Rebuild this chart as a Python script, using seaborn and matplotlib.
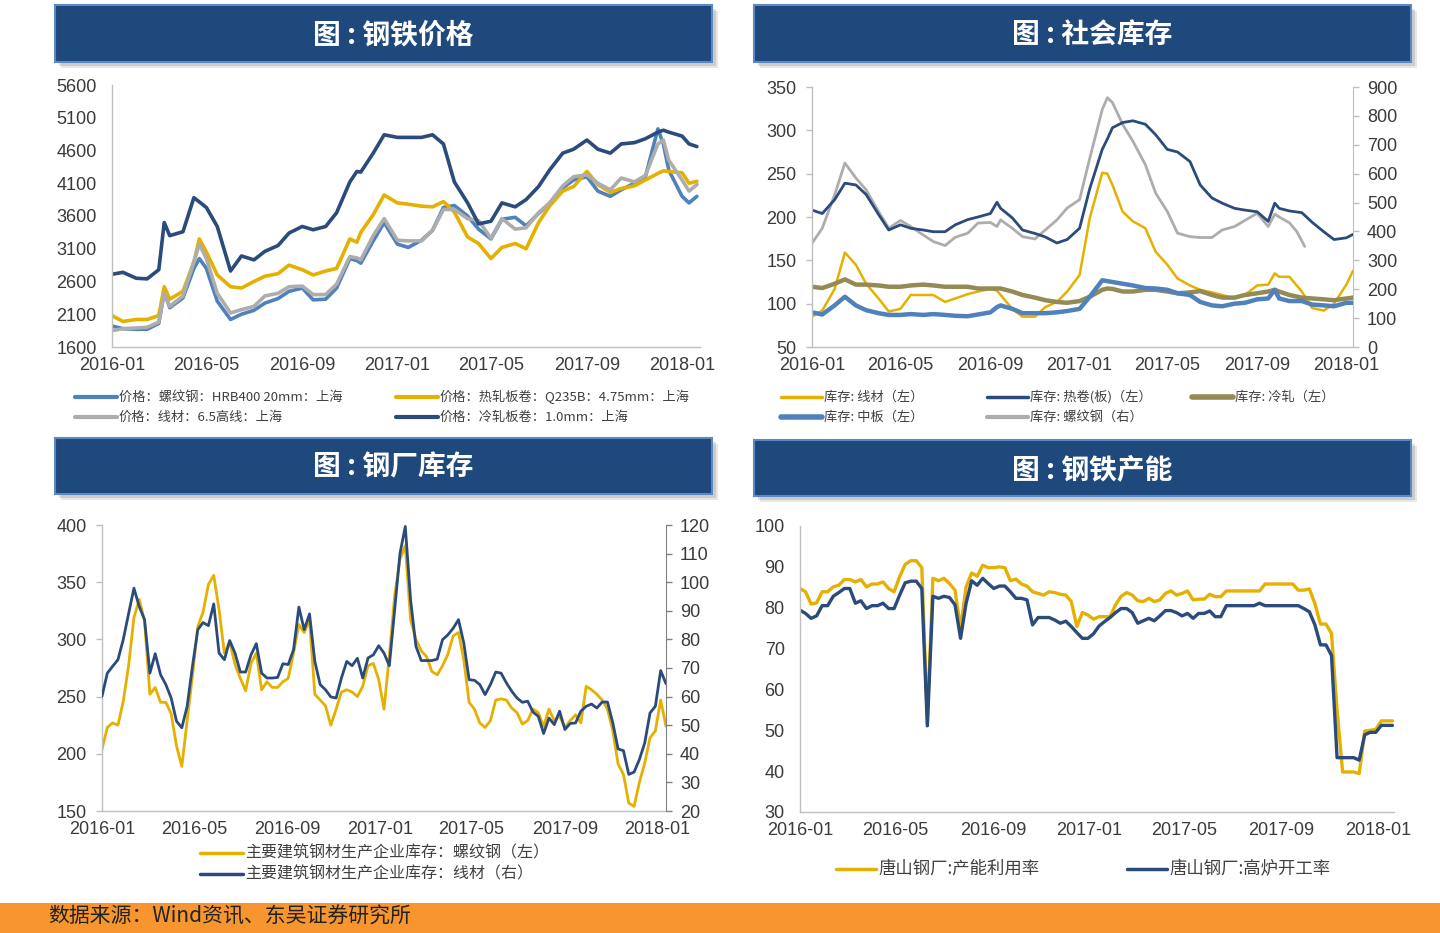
import matplotlib
matplotlib.use('Agg')
import matplotlib.pyplot as plt
import matplotlib.dates as mdates
from matplotlib.patches import Rectangle
from matplotlib.lines import Line2D
from matplotlib import font_manager
import pandas as pd
import seaborn as sns

# ---------------- data: steel prices (yuan/t) ----------------
p1_dates = ['2016-01-01', '2016-01-15', '2016-02-01', '2016-02-15', '2016-03-01', '2016-03-08', '2016-03-15',
            '2016-04-01', '2016-04-15', '2016-04-22', '2016-05-01', '2016-05-15', '2016-06-01', '2016-06-15',
            '2016-07-01', '2016-07-15', '2016-08-01', '2016-08-15', '2016-09-01', '2016-09-15', '2016-10-01',
            '2016-10-15', '2016-11-01', '2016-11-10', '2016-11-15', '2016-12-01', '2016-12-15',
            '2017-01-01', '2017-01-15', '2017-02-01', '2017-02-15', '2017-03-01', '2017-03-15', '2017-04-01',
            '2017-04-15', '2017-05-01', '2017-05-15', '2017-06-01', '2017-06-15', '2017-07-01', '2017-07-15',
            '2017-08-01', '2017-08-15', '2017-09-01', '2017-09-15', '2017-10-01', '2017-10-15', '2017-11-01',
            '2017-11-15', '2017-12-01', '2017-12-08', '2017-12-15', '2018-01-01', '2018-01-10', '2018-01-20']
rebar_price = [1920, 1880, 1870, 1870, 1960, 2450, 2200, 2350, 2800, 2950, 2800, 2300, 2020, 2100,
               2160, 2270, 2340, 2450, 2500, 2320, 2330, 2500, 2950, 2920, 2880, 3220, 3500,
               3170, 3120, 3230, 3380, 3730, 3760, 3600, 3400, 3250, 3550, 3580, 3450, 3640, 3790,
               4030, 4150, 4200, 3980, 3900, 4000, 4100, 4200, 4930, 4700, 4300, 3900, 3800, 3900]
hot_price = [2080, 1990, 2020, 2020, 2080, 2520, 2330, 2450, 2900, 3250, 3050, 2700, 2520, 2500,
             2600, 2680, 2720, 2850, 2780, 2700, 2760, 2800, 3250, 3200, 3350, 3620, 3920,
             3800, 3780, 3750, 3740, 3820, 3660, 3280, 3180, 2950, 3120, 3180, 3100, 3500, 3750,
             3980, 4050, 4280, 4080, 3960, 4020, 4060, 4150, 4250, 4290, 4280, 4260, 4100, 4130]
wire_price = [1850, 1880, 1890, 1900, 1980, 2420, 2220, 2380, 2900, 3170, 2950, 2420, 2120, 2170,
              2220, 2380, 2420, 2520, 2530, 2400, 2400, 2560, 2980, 2960, 2930, 3300, 3560,
              3230, 3220, 3220, 3380, 3700, 3700, 3560, 3530, 3260, 3560, 3400, 3420, 3650, 3800,
              4060, 4200, 4230, 4100, 4000, 4180, 4120, 4220, 4700, 4760, 4450, 4150, 3980, 4080]
cold_price = [2710, 2740, 2650, 2640, 2780, 3500, 3300, 3360, 3880, 3815, 3730, 3440, 2760, 2990,
              2930, 3060, 3150, 3340, 3440, 3390, 3440, 3650, 4120, 4280, 4270, 4560, 4840,
              4800, 4800, 4800, 4840, 4700, 4120, 3800, 3480, 3520, 3800, 3740, 3850, 4050, 4300,
              4560, 4620, 4760, 4620, 4560, 4700, 4720, 4780, 4880, 4910, 4880, 4820, 4700, 4660]

# ---------------- data: social inventory (10k t) ----------------
p2_dates = ['2016-01-01', '2016-01-15', '2016-02-01', '2016-02-15', '2016-03-01', '2016-03-15', '2016-04-01',
            '2016-04-15', '2016-05-01', '2016-05-15', '2016-06-01', '2016-06-15', '2016-07-01', '2016-07-15',
            '2016-08-01', '2016-08-15', '2016-09-01', '2016-09-10', '2016-09-15', '2016-10-01', '2016-10-15',
            '2016-11-01', '2016-11-15', '2016-12-01', '2016-12-15',
            '2017-01-01', '2017-01-15', '2017-02-01', '2017-02-08', '2017-02-15', '2017-03-01', '2017-03-15',
            '2017-04-01', '2017-04-15', '2017-05-01', '2017-05-15', '2017-06-01', '2017-06-15', '2017-07-01',
            '2017-07-15', '2017-08-01', '2017-08-15', '2017-09-01', '2017-09-16', '2017-09-25', '2017-10-01',
            '2017-10-15', '2017-11-01', '2017-11-15', '2017-12-01', '2017-12-15', '2018-01-01', '2018-01-10']
inv_wire = [85, 92, 117, 159, 145, 123, 106, 91, 94, 110, 110, 110, 102, 106, 111, 114, 117, 115, 110, 94,
            85, 85, 96, 102, 114,
            133, 199, 251, 250, 237, 206, 195, 187, 160, 145, 129, 121, 116, 113, 110, 106, 110, 121, 122,
            135, 131, 131, 114, 95, 92, 100, 122, 138]
inv_hot = [208, 204, 220, 239, 237, 226, 203, 185, 191, 187, 185, 183, 183, 191, 197, 200, 204, 217, 210,
           199, 185, 181, 177, 170, 174,
           187, 233, 278, 290, 303, 309, 311, 307, 295, 278, 275, 264, 237, 222, 216, 210, 208, 206, 195,
           216, 210, 207, 205, 194, 183, 174, 176, 180]
inv_cold = [119.5, 118, 123, 128, 122, 122, 121, 119.5, 119.5, 121, 122, 121, 119.5, 119.5, 119.5, 117.5,
            117.5, 117.5, 117.5, 114, 110, 107, 104, 102, 101,
            103, 108, 116, 117.5, 117, 114, 114, 116, 116, 114, 112, 113, 114.5, 110, 107, 107, 110, 112,
            114, 116, 114, 110, 107, 106, 105, 104, 106, 107]
inv_plate = [90, 87.5, 98, 108, 98, 92.5, 89, 87, 87, 88, 87, 88, 87, 86, 85.5, 87.5, 90, 96, 98, 94,
             89, 89, 89, 90, 91.5,
             94, 108, 127, 126, 125, 123, 121, 118, 117.5, 116, 112, 110, 102, 98, 97, 100, 101, 105, 106,
             116, 106, 103, 103, 99, 98, 97, 101, 101]
rebar_dates = p2_dates[:47] + ['2017-10-25', '2017-11-05']
inv_rebar = [359, 411, 527, 637, 585, 544, 469, 411, 438, 417, 388, 365, 351, 380, 394, 429, 431, 417, 440,
             411, 382, 374, 405, 440, 481,
             510, 654, 822, 863, 846, 770, 712, 631, 533, 469, 394, 382, 379, 379, 405, 417, 438, 463, 417,
             460, 450, 430, 400, 348]

# ---------------- data: mill inventory (weekly) ----------------
p3_dates = pd.date_range('2016-01-01', periods=107, freq='7D')
mill_rebar = [204, 223, 227, 225, 246, 277, 319, 335, 316, 252, 258, 245, 245, 235, 207, 189, 229, 268,
              311, 324, 348, 356, 326, 288, 298, 278, 266, 255, 279, 288, 256, 263, 258, 258, 263, 266,
              288, 313, 306, 317, 252, 247, 242, 225, 239, 254, 256, 254, 250, 259, 277, 279, 265, 239,
              285, 338, 370, 382, 317, 300, 290, 285, 272, 269, 277, 287, 303, 306, 282, 245, 239, 227,
              223, 229, 247, 248, 247, 240, 236, 226, 229, 239, 236, 224, 239, 229, 233, 223, 229, 234,
              227, 259, 256, 252, 247, 239, 220, 191, 182, 157, 154, 175, 192, 214, 220, 247, 224]
mill_wire = [60.1, 68.2, 70.6, 72.9, 80, 89, 97.9, 91.5, 86.9, 68.2, 75, 67.7, 64.2, 59.5, 51.4, 49.1,
             56.6, 70.6, 83.4, 85.9, 84.8, 92.4, 75.2, 72.9, 79.6, 75.2, 68.6, 68.6, 74.6, 78.5, 68.2,
             66.5, 66.5, 66.7, 71.5, 71.2, 76.4, 91.3, 83.4, 88.9, 72.3, 64.2, 62.4, 59.9, 59.5, 66.5,
             72.3, 70.8, 73.4, 66.5, 73.5, 74.6, 77.8, 75.2, 70.8, 90.3, 110, 119.5, 93.8, 77.6, 72.6,
             72.6, 72.6, 73.1, 79.9, 81.6, 83.9, 86.9, 78.7, 65.9, 65.7, 64.2, 60.7, 64.2, 68.6, 68.2,
             64.8, 61.9, 59.5, 58, 58.4, 54.6, 53.1, 47.1, 52.5, 50.2, 54.9, 48.5, 50.6, 50.8, 54.9,
             56.6, 57.4, 56, 58.1, 58.1, 50.8, 41.7, 41.1, 32.8, 33.6, 38, 43.8, 54.3, 56.6, 69.1, 64.5]

# ---------------- data: Tangshan capacity (weekly, %) ----------------
p4_dates = pd.date_range('2016-01-01', periods=108, freq='7D')
capacity_util = [84.7, 83.9, 80.9, 81.2, 83.9, 83.9, 85.1, 85.5, 86.9, 86.9, 86.3, 86.9, 85.1, 85.8, 85.8,
                 86.3, 84.7, 83.9, 87.6, 90.6, 91.5, 91.5, 89.8, 52, 87.2, 86.6, 87.2, 85.9, 84.3, 75,
                 85.1, 88.5, 87.7, 90.4, 89.8, 89.8, 90, 89.8, 86.6, 87, 85.8, 85.3, 83.9, 83.5, 83.1,
                 83.9, 83.7, 83.3, 83.1, 81.5, 75.4, 78.8, 78.2, 77.2, 77.8, 77.8, 77.8, 80.7, 82.8, 83.7,
                 83.1, 81.7, 81.5, 82.3, 81.5, 81.9, 83.5, 84.1, 83.1, 83.5, 84.1, 81.9, 82.1, 82.1, 83.3,
                 82.7, 82.7, 84.1, 84.1, 84.1, 84.1, 84.1, 84.1, 84.1, 85.8, 85.8, 85.8, 85.8, 85.8, 85.8,
                 84.3, 84.3, 84.6, 81, 76, 76, 73.7, 55, 39.8, 39.8, 39.8, 39.4, 49.8, 50, 50.2, 52.3,
                 52.3, 52.3]
furnace_rate = [79.4, 78.6, 77.4, 78, 80.5, 80.5, 82.8, 83.7, 84.7, 84.7, 81.1, 81.7, 79.8, 80.5, 80.5,
                81.1, 79.8, 79.8, 83.1, 86.1, 86.5, 86.5, 84.7, 51.1, 82.8, 82.3, 82.8, 82.5, 80.7, 72.5,
                81.1, 86.6, 85.5, 87.2, 85.9, 84.7, 85.3, 85.3, 83.9, 82.3, 82.3, 81.9, 75.8, 77.6, 77.6,
                77.6, 77, 76.2, 76.7, 75.4, 73.9, 72.5, 72.5, 73.6, 75.5, 76.6, 77.6, 78.8, 79.8, 79.8,
                78.8, 76.2, 76.8, 77.4, 76.8, 78, 79.3, 79.3, 78.8, 78, 78.6, 77.4, 78.6, 78.6, 79.2,
                77.8, 77.8, 80.5, 80.5, 80.5, 80.5, 80.5, 80.5, 81.1, 80.5, 80.5, 80.5, 80.5, 80.5, 80.5,
                80.5, 79.8, 79, 75.8, 70.9, 70.9, 68.3, 43.3, 43.3, 43.3, 43.3, 42.7, 48.9, 49.5, 49.5,
                51.2, 51.2, 51.2]

# colours
NAVY = '#2A4B7C'
BLUE = '#4F81BD'
GOLD = '#E5B000'
GRAY = '#ADADAD'
OLIVE = '#948A54'

sns.set_style('white')
installed = {f.name for f in font_manager.fontManager.ttflist}
NUM_FONT = 'Liberation Sans Narrow' if 'Liberation Sans Narrow' in installed else 'Liberation Sans'
plt.rcParams['font.family'] = [NUM_FONT, 'Noto Sans CJK SC', 'DejaVu Sans']
CJK = ['Noto Sans CJK SC', 'DejaVu Sans']

W, H = 1440, 933
fig = plt.figure(figsize=(W / 100, H / 100), dpi=100)


def px_axes(x0, y0, x1, y1):
    return fig.add_axes([x0 / W, 1 - y1 / H, (x1 - x0) / W, (y1 - y0) / H])


def banner(x0, y0, x1, y1, title):
    # soft shadow then the blue block
    for off, a in [(6, 0.18), (4, 0.25)]:
        fig.add_artist(Rectangle((x0 / W + off / W, 1 - (y1 + off) / H), (x1 - x0) / W, (y1 - y0) / H,
                                 transform=fig.transFigure, facecolor='#7F7F7F', edgecolor='none', alpha=a))
    fig.add_artist(Rectangle((x0 / W, 1 - y1 / H), (x1 - x0) / W, (y1 - y0) / H, transform=fig.transFigure,
                             facecolor='#1F497D', edgecolor='#5B89C4', linewidth=1.5))
    fig.text(((x0 + x1) / 2 + 10) / W, 1 - ((y0 + y1) / 2 + 2) / H, title, color='white', fontsize=20,
             fontweight='bold', family=CJK, ha='center', va='center')


def legend_item(x0, x1, xt, y, label, color, lw, size):
    fig.add_artist(Line2D([x0 / W, x1 / W], [1 - y / H, 1 - y / H], transform=fig.transFigure,
                          color=color, linewidth=lw, solid_capstyle='round'))
    fig.text(xt / W, 1 - y / H, label, fontsize=size, family=CJK, color='#404040', ha='left', va='center')


def style_axes(ax):
    ax.spines['top'].set_visible(False)
    ax.spines['right'].set_visible(False)
    for s in ['left', 'bottom']:
        ax.spines[s].set_color('#BFBFBF')
        ax.spines[s].set_linewidth(1)
    ax.tick_params(axis='both', colors='#BFBFBF', labelcolor='#3A3A3A', length=4, width=1,
                   direction='out', labelsize=13)
    ax.tick_params(axis='y', pad=7)
    ax.tick_params(axis='x', pad=3)
    ax.xaxis.set_major_locator(mdates.MonthLocator(bymonth=[1, 5, 9]))
    ax.xaxis.set_major_formatter(mdates.DateFormatter('%Y-%m'))
    ax.set_xlabel('')
    ax.set_ylabel('')


def style_twin(ax2, color):
    for s in ['top', 'left', 'bottom']:
        ax2.spines[s].set_visible(False)
    ax2.spines['right'].set_color(color)
    ax2.tick_params(axis='y', colors=color, labelcolor='#3A3A3A', length=4, width=1,
                    direction='out', labelsize=13, pad=6)
    ax2.set_ylabel('')


# ---------------- panel 1: prices ----------------
banner(55, 5, 712, 62, '图 : 钢铁价格')
ax1 = px_axes(112, 85, 700, 347)
d1 = pd.to_datetime(p1_dates)
sns.lineplot(x=d1, y=rebar_price, ax=ax1, color=BLUE, linewidth=2.6)
sns.lineplot(x=d1, y=hot_price, ax=ax1, color=GOLD, linewidth=2.6)
sns.lineplot(x=d1, y=wire_price, ax=ax1, color=GRAY, linewidth=2.6)
sns.lineplot(x=d1, y=cold_price, ax=ax1, color=NAVY, linewidth=2.6)
style_axes(ax1)
ax1.set_ylim(1600, 5600)
ax1.set_yticks(range(1600, 5601, 500))
ax1.set_xlim(pd.Timestamp('2016-01-01'), pd.Timestamp('2018-01-24'))

legend_item(75, 117, 119, 397, '价格：螺纹钢：HRB400 20mm：上海', BLUE, 3, 9.5)
legend_item(396, 438, 440, 397, '价格：热轧板卷：Q235B：4.75mm：上海', GOLD, 3, 9.5)
legend_item(75, 117, 119, 417, '价格：线材：6.5高线：上海', GRAY, 3, 9.5)
legend_item(396, 438, 440, 417, '价格：冷轧板卷：1.0mm：上海', NAVY, 3, 9.5)

# ---------------- panel 2: social inventory ----------------
banner(754, 5, 1411, 62, '图 : 社会库存')
ax2 = px_axes(812, 87, 1353, 347)
d2 = pd.to_datetime(p2_dates)
ax2r = ax2.twinx()
sns.lineplot(x=pd.to_datetime(rebar_dates), y=inv_rebar, ax=ax2r, color=GRAY, linewidth=2)
sns.lineplot(x=d2, y=inv_wire, ax=ax2, color=GOLD, linewidth=1.8)
sns.lineplot(x=d2, y=inv_hot, ax=ax2, color=NAVY, linewidth=2)
sns.lineplot(x=d2, y=inv_cold, ax=ax2, color=OLIVE, linewidth=3.2)
sns.lineplot(x=d2, y=inv_plate, ax=ax2, color=BLUE, linewidth=3.2)
ax2.set_zorder(ax2r.get_zorder() + 1)
ax2.patch.set_visible(False)
style_axes(ax2)
style_twin(ax2r, '#BFBFBF')
ax2.set_ylim(50, 350)
ax2.set_yticks(range(50, 351, 50))
ax2r.set_ylim(0, 900)
ax2r.set_yticks(range(0, 901, 100))
ax2.set_xlim(pd.Timestamp('2016-01-01'), pd.Timestamp('2018-01-10'))

legend_item(781, 822, 824, 397, '库存: 线材（左）', GOLD, 2.5, 9.5)
legend_item(987, 1028, 1030, 397, '库存: 热卷(板)（左）', NAVY, 2.5, 9.5)
legend_item(1192, 1233, 1235, 397, '库存: 冷轧（左）', OLIVE, 4, 9.5)
legend_item(781, 822, 824, 417, '库存: 中板（左）', BLUE, 4, 9.5)
legend_item(987, 1028, 1030, 417, '库存: 螺纹钢（右）', GRAY, 3, 9.5)

# ---------------- panel 3: mill inventory ----------------
banner(55, 438, 712, 494, '图 : 钢厂库存')
ax3 = px_axes(102, 525, 666, 811)
ax3r = ax3.twinx()
sns.lineplot(x=p3_dates, y=mill_rebar, ax=ax3, color=GOLD, linewidth=2)
sns.lineplot(x=p3_dates, y=mill_wire, ax=ax3r, color=NAVY, linewidth=2)
style_axes(ax3)
style_twin(ax3r, '#808080')
ax3.set_ylim(150, 400)
ax3.set_yticks(range(150, 401, 50))
ax3r.set_ylim(20, 120)
ax3r.set_yticks(range(20, 121, 10))
ax3.set_xlim(pd.Timestamp('2016-01-01'), pd.Timestamp('2018-01-12'))

legend_item(200, 243, 245, 853, '主要建筑钢材生产企业库存：螺纹钢（左）', GOLD, 2.5, 11.5)
legend_item(200, 243, 245, 874, '主要建筑钢材生产企业库存：线材（右）', NAVY, 2.5, 11.5)

# ---------------- panel 4: capacity ----------------
banner(754, 440, 1411, 496, '图 : 钢铁产能')
ax4 = px_axes(800, 526, 1394, 812)
sns.lineplot(x=p4_dates, y=capacity_util, ax=ax4, color=GOLD, linewidth=2.4)
sns.lineplot(x=p4_dates, y=furnace_rate, ax=ax4, color=NAVY, linewidth=2.4)
style_axes(ax4)
ax4.set_ylim(30, 100)
ax4.set_yticks(range(30, 101, 10))
ax4.set_xlim(pd.Timestamp('2016-01-01'), pd.Timestamp('2018-01-21'))

legend_item(836, 876, 878, 869, '唐山钢厂:产能利用率', GOLD, 2.5, 12.5)
legend_item(1127, 1167, 1169, 869, '唐山钢厂:高炉开工率', NAVY, 2.5, 12.5)

# ---------------- footer ----------------
fig.add_artist(Rectangle((0, 0), 1, 30 / H, transform=fig.transFigure, facecolor='#F7962F', edgecolor='none'))
fig.text(48 / W, 1 - 917 / H, '数据来源：Wind资讯、东吴证券研究所', fontsize=15, family=CJK,
         color='#222222', ha='left', va='center')

fig.savefig('out.png', dpi=100)
